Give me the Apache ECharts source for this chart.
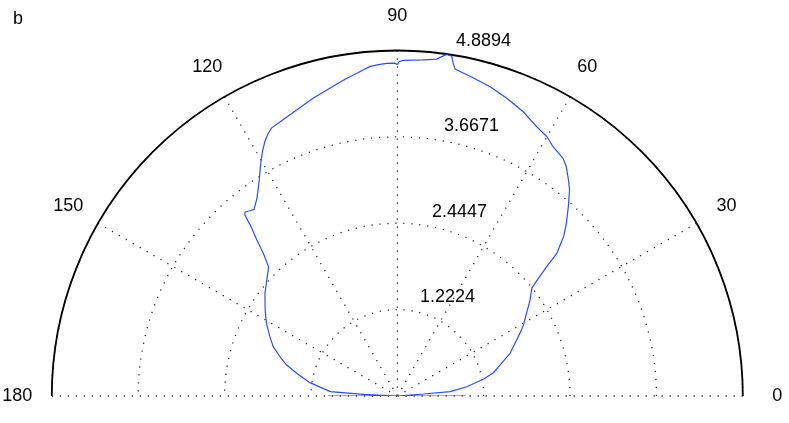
<!DOCTYPE html>
<html>
<head>
<meta charset="utf-8">
<script src="https://cdn.jsdelivr.net/npm/echarts@6/dist/echarts.min.js"></script>
<style>
html,body{margin:0;padding:0;background:#fff;}
#chart{width:789px;height:423px;}
</style>
</head>
<body>
<div id="chart"></div>
<script>
// ---- data (angle in degrees, radius in data units) ----
const angleDeg = [0, 0, 4.4, 4.7, 7.6, 11.0, 13.6, 16.8, 20.8, 27.1, 29.4, 32.6, 35.9, 38.7, 39.3, 40.9, 41.8, 43.8, 45.6, 47.9, 50.1, 51.6, 53.6, 55.1, 58.0, 60.1, 62.6, 66.1, 69.8, 73.3, 76.6, 80.0, 80.5, 80.9, 81.7, 82.8, 83.3, 85.6, 89.0, 89.7, 90.0, 90.4, 91.8, 93.0, 94.7, 96.0, 97.2, 99.1, 102.3, 105.8, 109.4, 113.2, 115.1, 116.2, 117.5, 118.9, 120.6, 122.8, 125.4, 127.5, 128.5, 129.6, 130.1, 130.7, 132.0, 133.2, 134.9, 138.4, 142.2, 147.0, 150.9, 155.0, 158.3, 161.5, 164.3, 167.3, 171.3, 176.3, 177.1, 180, 180];
const radius = [0.96, 0, 0.37, 0.75, 0.99, 1.24, 1.40, 1.52, 1.71, 1.95, 2.05, 2.17, 2.32, 2.44, 2.52, 2.80, 3.03, 3.26, 3.42, 3.61, 3.80, 3.90, 4.03, 4.10, 4.16, 4.24, 4.29, 4.40, 4.49, 4.57, 4.63, 4.70, 4.78, 4.87, 4.887, 4.83, 4.80, 4.77, 4.75, 4.73, 4.69, 4.71, 4.71, 4.70, 4.68, 4.64, 4.60, 4.55, 4.46, 4.38, 4.29, 4.22, 4.19, 4.14, 4.06, 3.95, 3.80, 3.61, 3.43, 3.33, 3.35, 3.38, 3.35, 3.19, 2.97, 2.77, 2.58, 2.47, 2.37, 2.23, 2.12, 1.99, 1.89, 1.75, 1.63, 1.46, 1.25, 0.95, 0.48, 0, 0.98];
const ringTicks = [1.2224, 2.4447, 3.6671, 4.8894];
const ringLabels = ['1.2224', '2.4447', '3.6671', '4.8894'];
const angleTicks = [0, 30, 60, 90, 120, 150, 180];
const angleLabels = ['0', '30', '60', '90', '120', '150', '180'];
const panelLabel = 'b';

const rMax = ringTicks[ringTicks.length - 1];
const rInc = rMax / ringTicks.length;
const FONT = "'Liberation Sans', Arial, Helvetica, sans-serif";
const FS = 18;
const dotted = {color: '#222', width: 1.3, type: [1.2, 6.8]};

const chart = echarts.init(document.getElementById('chart'), null, {renderer: 'canvas'});
const seriesData = angleDeg.map((a, i) => [radius[i], a]);

chart.setOption({
  animation: false,
  backgroundColor: '#fff',
  title: {
    text: panelLabel, left: 8, top: 5,
    textStyle: {fontFamily: FONT, fontSize: FS, fontWeight: 'normal', color: '#000'}
  },
  polar: {center: [397.3, 396], radius: 345.5},
  angleAxis: {
    type: 'value', min: 0, max: 180, interval: 30,
    startAngle: 0, endAngle: 180, clockwise: false,
    axisLine: {show: true, lineStyle: {color: '#000', width: 1.8}},
    axisTick: {show: false},
    axisLabel: {show: false},
    splitLine: {show: true, lineStyle: dotted}
  },
  radiusAxis: {
    type: 'value', min: 0, max: rMax, interval: rInc,
    axisLine: {show: false}, axisTick: {show: false}, axisLabel: {show: false},
    splitLine: {show: true, lineStyle: dotted}
  },
  series: [{
    type: 'line', coordinateSystem: 'polar', data: seriesData,
    showSymbol: false, symbol: 'none', smooth: false, z: 5,
    lineStyle: {color: '#2a4bff', width: 1.2}
  }]
});

const els = [];
angleTicks.forEach((a, i) => {
  const p = chart.convertToPixel({polarIndex: 0}, [1.1 * rMax, a]);
  els.push({type: 'text', x: p[0], y: p[1], silent: true,
    style: {text: angleLabels[i], fill: '#000', font: FS + 'px ' + FONT, textAlign: 'center', textVerticalAlign: 'middle'}});
});
ringTicks.forEach((t, i) => {
  const p = chart.convertToPixel({polarIndex: 0}, [t + rInc / 20, 82]);
  els.push({type: 'text', x: p[0], y: p[1], silent: true,
    style: {text: '  ' + ringLabels[i], fill: '#000', font: FS + 'px ' + FONT, textAlign: 'left', textVerticalAlign: 'bottom'}});
});
chart.setOption({graphic: {elements: els}});
</script>
</body>
</html>
